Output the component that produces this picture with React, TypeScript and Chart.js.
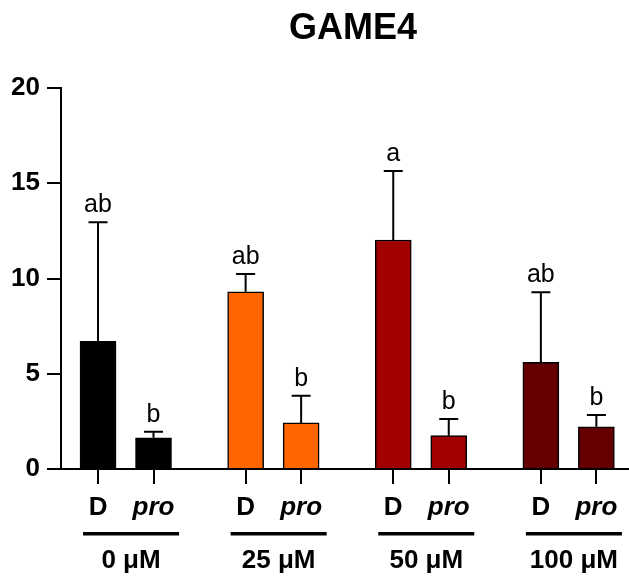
import React, { useEffect, useRef } from "react";
import { Chart, registerables } from "chart.js";

Chart.register(...registerables);

// ---- data ----
const title = "GAME4";
const groups = ["0 μM", "25 μM", "50 μM", "100 μM"];
const genotypes = ["D", "pro"];
const means = [6.7, 1.64, 9.3, 2.42, 12.02, 1.75, 5.6, 2.22];
const errors = [6.25, 0.32, 0.93, 1.43, 3.62, 0.87, 3.68, 0.61];
const letters = ["ab", "b", "ab", "b", "a", "b", "ab", "b"];
const colors = ["#000000", "#000000", "#FF6600", "#FF6600", "#A00000", "#A00000", "#640000", "#640000"];
const yTicks = [0, 5, 10, 15, 20];

// ---- layout constants ----
const GROUP_STEP = 2.66;
const X_MIN = -0.667;
const X_MAX = 9.55;
const FONT = "'Liberation Sans', Arial, Helvetica, sans-serif";

const xPos = (i: number) => Math.floor(i / 2) * GROUP_STEP + (i % 2);
const positions = means.map((_, i) => xPos(i));

const overlayPlugin = {
  id: "overlay",
  afterDraw(chart: any) {
    const ctx = chart.ctx;
    const xs = chart.scales.x;
    const ys = chart.scales.y;
    const meta = chart.getDatasetMeta(0);
    ctx.save();
    // title
    ctx.fillStyle = "#000";
    ctx.font = `bold 36px ${FONT}`;
    ctx.textAlign = "center";
    ctx.textBaseline = "alphabetic";
    ctx.fillText(title, 353, 39);

    // error bars + letters
    meta.data.forEach((bar: any, i: number) => {
      const x = bar.x;
      const yTop = ys.getPixelForValue(means[i]);
      const yErr = ys.getPixelForValue(means[i] + errors[i]);
      ctx.strokeStyle = "#000";
      ctx.lineWidth = 2;
      ctx.beginPath();
      ctx.moveTo(x, yTop);
      ctx.lineTo(x, yErr);
      ctx.moveTo(x - 9.5, yErr);
      ctx.lineTo(x + 9.5, yErr);
      ctx.stroke();
      ctx.font = `25px ${FONT}`;
      ctx.textAlign = "center";
      ctx.textBaseline = "alphabetic";
      ctx.fillText(letters[i], x, yErr - 10);
    });

    // group underlines and labels
    groups.forEach((g, gi) => {
      const left = xs.getPixelForValue(xPos(gi * 2) - 0.27);
      const right = xs.getPixelForValue(xPos(gi * 2 + 1) + 0.46);
      ctx.fillStyle = "#000";
      ctx.fillRect(left, 532, right - left, 3.5);
      ctx.font = `bold 26px ${FONT}`;
      ctx.textAlign = "center";
      ctx.textBaseline = "alphabetic";
      ctx.fillText(g, (left + right) / 2, 568);
    });
    ctx.restore();
  },
};

export default function App() {
  const ref = useRef<HTMLCanvasElement | null>(null);
  useEffect(() => {
    if (!ref.current) return;
    const chart = new Chart(ref.current, {
      type: "bar",
      data: {
        datasets: [
          {
            data: means.map((m, i) => ({ x: positions[i], y: m })),
            backgroundColor: colors,
            borderColor: "#000",
            borderWidth: 1.5,
            barThickness: 36,
          },
        ],
      },
      options: {
        animation: false,
        responsive: false,
        layout: { padding: { top: 88, right: 1, left: 0, bottom: 0 } },
        plugins: {
          legend: { display: false },
          tooltip: { enabled: false },
          title: { display: false },
        },
        scales: {
          x: {
            type: "linear",
            offset: false,
            min: X_MIN,
            max: X_MAX,
            afterBuildTicks: (s: any) => {
              s.ticks = positions.map((v) => ({ value: v }));
            },
            afterFit: (s: any) => {
              s.height = 108;
            },
            ticks: {
              autoSkip: false,
              maxRotation: 0,
              color: "#000",
              padding: 8,
              callback: (_v: any, i: number) => genotypes[i % 2],
              font: (c: any) => ({
                family: FONT,
                size: 26,
                weight: "bold",
                style: c.index % 2 ? "italic" : "normal",
              }),
            },
            grid: { offset: false, drawOnChartArea: false, tickLength: 15, color: "#000", lineWidth: 2 },
            border: { color: "#000", width: 2 },
          },
          y: {
            min: 0,
            max: 20,
            afterBuildTicks: (s: any) => {
              s.ticks = yTicks.map((v) => ({ value: v }));
            },
            afterFit: (s: any) => {
              s.width = 61;
            },
            ticks: {
              color: "#000",
              padding: 7,
              font: { family: FONT, size: 26, weight: "bold" },
            },
            grid: { drawOnChartArea: false, tickLength: 14, color: "#000", lineWidth: 2 },
            border: { color: "#000", width: 2 },
          },
        },
      },
      plugins: [overlayPlugin],
    } as any);
    return () => chart.destroy();
  }, []);
  return (
    <div style={{ position: "fixed", left: 0, top: 0, width: 629, height: 577, background: "#fff" }}>
      <canvas ref={ref} width={629} height={577} style={{ width: 629, height: 577 }} />
    </div>
  );
}
